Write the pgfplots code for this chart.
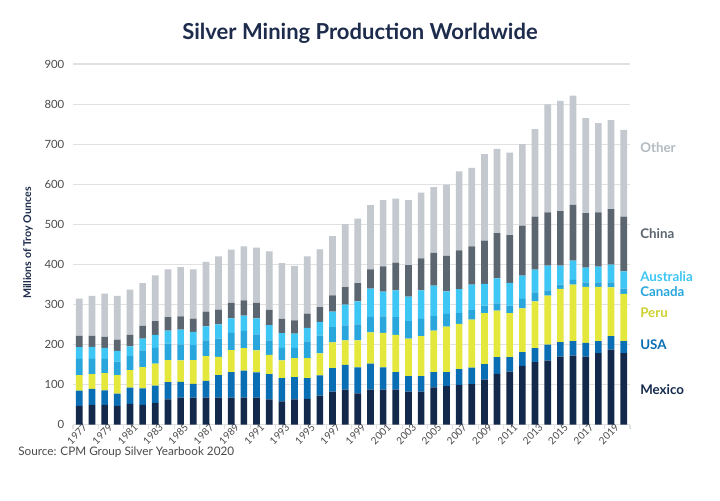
\documentclass[border=0pt]{standalone}
\usepackage{fontspec}
\setmainfont{Lato}
\usepackage{pgfplots}
\pgfplotsset{compat=1.18}
\usepackage{pgfplotstable}
\definecolor{mexico}{HTML}{13294B}
\definecolor{usa}{HTML}{0A6EB4}
\definecolor{peru}{HTML}{E4E83C}
\definecolor{canada}{HTML}{29A6DB}
\definecolor{australia}{HTML}{3EC6F4}
\definecolor{china}{HTML}{5B6670}
\definecolor{other}{HTML}{C3C9CE}
\definecolor{perulab}{HTML}{CDD12E}
\definecolor{otherlab}{HTML}{B3BAC0}
\definecolor{titlenavy}{HTML}{1D2B4C}
\definecolor{ticktext}{HTML}{4A4A4A}
\definecolor{gridgray}{HTML}{E1E1E1}
\pgfplotstableread{
year M U P C A Ch O
1977 46.6 38.2 38.2 41.0 29.0 28.0 93.0
1978 49.0 40.0 36.6 38.4 30.0 27.0 100.0
1979 49.0 36.0 43.0 36.0 27.0 28.0 108.0
1980 46.6 30.4 46.0 34.0 27.0 28.0 109.0
1981 51.6 40.4 43.5 35.5 24.0 29.0 113.0
1982 49.0 41.0 53.0 42.0 29.5 31.5 107.0
1983 54.0 43.0 55.0 39.0 33.0 34.0 114.5
1984 63.0 43.0 54.5 41.5 32.5 33.5 119.0
1985 67.0 39.4 54.0 39.5 37.0 33.0 123.0
1986 67.0 34.5 59.5 37.0 33.0 33.5 122.5
1987 67.0 42.0 62.0 39.0 35.0 37.0 124.0
1988 67.0 56.0 46.0 45.5 35.5 37.0 133.0
1989 67.0 63.6 54.8 43.3 36.3 38.5 133.0
1990 67.0 67.7 55.7 43.3 38.3 38.0 135.0
1991 67.0 63.0 55.0 40.0 40.0 38.5 138.0
1992 63.0 62.6 48.4 36.0 38.0 38.0 146.0
1993 57.5 58.5 44.0 31.0 37.0 36.0 139.0
1994 62.5 55.5 48.0 25.0 36.0 33.0 136.0
1995 64.0 52.0 50.0 41.5 33.5 36.0 143.0
1996 72.0 50.5 55.0 44.5 34.0 37.0 144.0
1997 82.0 59.0 64.0 38.0 39.0 40.5 147.5
1998 87.0 62.0 61.0 37.5 51.5 44.0 157.0
1999 78.0 64.5 67.5 40.0 57.5 45.5 161.0
2000 87.0 64.7 78.3 39.0 70.0 48.0 160.5
2001 87.0 55.5 86.5 41.0 62.0 63.0 165.0
2002 87.0 43.6 93.4 44.0 67.0 69.0 160.0
2003 82.0 38.7 94.0 43.3 61.0 79.0 162.0
2004 82.0 38.7 99.8 43.5 71.0 80.0 164.0
2005 93.0 37.6 104.0 35.8 76.5 81.5 164.5
2006 95.7 35.0 113.4 32.0 56.0 89.0 178.0
2007 99.0 39.0 113.0 27.0 60.0 97.0 197.0
2008 100.5 41.2 120.3 23.7 63.3 95.5 196.0
2009 112.0 39.0 126.8 19.2 54.0 108.0 216.0
2010 126.4 41.6 116.4 18.3 62.3 113.0 210.0
2011 132.0 36.0 109.8 19.2 56.4 119.6 205.6
2012 146.4 34.1 109.5 23.5 58.2 124.8 203.5
2013 155.5 34.9 117.3 22.3 56.7 132.3 218.6
2014 159.7 39.5 122.7 13.1 61.7 133.0 269.3
2015 169.6 35.8 133.1 10.5 47.7 136.3 275.0
2016 172.0 36.0 141.0 12.0 48.0 139.0 273.0
2017 169.6 34.1 139.8 11.5 36.7 136.3 237.0
2018 178.0 30.0 135.5 11.5 39.0 135.7 222.9
2019 187.0 33.4 122.2 12.4 44.0 139.0 222.0
2020 178.0 30.0 118.0 13.0 43.0 137.0 216.5
}\data
\begin{document}
\begin{tikzpicture}
\path[use as bounding box, fill=white] (0,0) rectangle (540pt,375pt);
\begin{axis}[
  at={(54.75pt,56.625pt)}, anchor=south west,
  scale only axis, width=417.75pt, height=270.375pt,
  ybar stacked, bar width=5pt,
  xmin=1976.5, xmax=2020.5, ymin=0, ymax=900,
  ytick={0,100,...,900},
  xtick={1977,1979,...,2019},
  minor xtick={1976.5,1978.5,...,2020.5},
  axis x line*=bottom, axis y line*=left,
  y axis line style={draw=none},
  x axis line style={draw=gridgray, line width=0.8pt},
  ymajorgrids, grid style={draw=gridgray, line width=0.8pt},
  major tick length=0pt,
  minor tick length=3pt,
  tick align=outside,
  minor x tick style={draw=gridgray, line width=0.8pt},
  /pgf/number format/1000 sep={},
  /pgf/number format/assume math mode=true,
  xticklabel style={rotate=45, anchor=east, font=\fontsize{7.5}{9}\selectfont, text=ticktext, inner sep=0.5pt, yshift=-4pt, xshift=3pt},
  yticklabel style={font=\fontsize{8.5}{10}\selectfont, text=ticktext, xshift=-3pt},
]
\addplot[fill=mexico, draw=none] table[x=year,y=M]{\data};
\addplot[fill=usa, draw=none] table[x=year,y=U]{\data};
\addplot[fill=peru, draw=none] table[x=year,y=P]{\data};
\addplot[fill=canada, draw=none] table[x=year,y=C]{\data};
\addplot[fill=australia, draw=none] table[x=year,y=A]{\data};
\addplot[fill=china, draw=none] table[x=year,y=Ch]{\data};
\addplot[fill=other, draw=none] table[x=year,y=O]{\data};
\end{axis}
\node[font=\fontsize{16.5}{19}\selectfont\bfseries, text=titlenavy] at (270pt,350.25pt) {Silver Mining Production Worldwide};
\node[rotate=90, font=\fontsize{8}{10}\selectfont\bfseries, text=titlenavy] at (21pt,192.75pt) {Millions of Troy Ounces};
\node[anchor=west, font=\fontsize{8.8}{10}\selectfont, text=ticktext, inner sep=0pt] at (13.5pt,36pt) {Source: CPM Group Silver Yearbook 2020};
\begin{scope}[every node/.style={anchor=west, inner sep=0pt, font=\fontsize{10}{12}\selectfont\bfseries}]
\node[text=otherlab] at (480pt,264pt) {Other};
\node[text=china] at (480pt,199.5pt) {China};
\node[text=australia] at (480pt,167.25pt) {Australia};
\node[text=canada] at (480pt,156pt) {Canada};
\node[text=perulab] at (480pt,140.25pt) {Peru};
\node[text=usa] at (480pt,116.25pt) {USA};
\node[text=mexico] at (480pt,82.5pt) {Mexico};
\end{scope}
\end{tikzpicture}
\end{document}
